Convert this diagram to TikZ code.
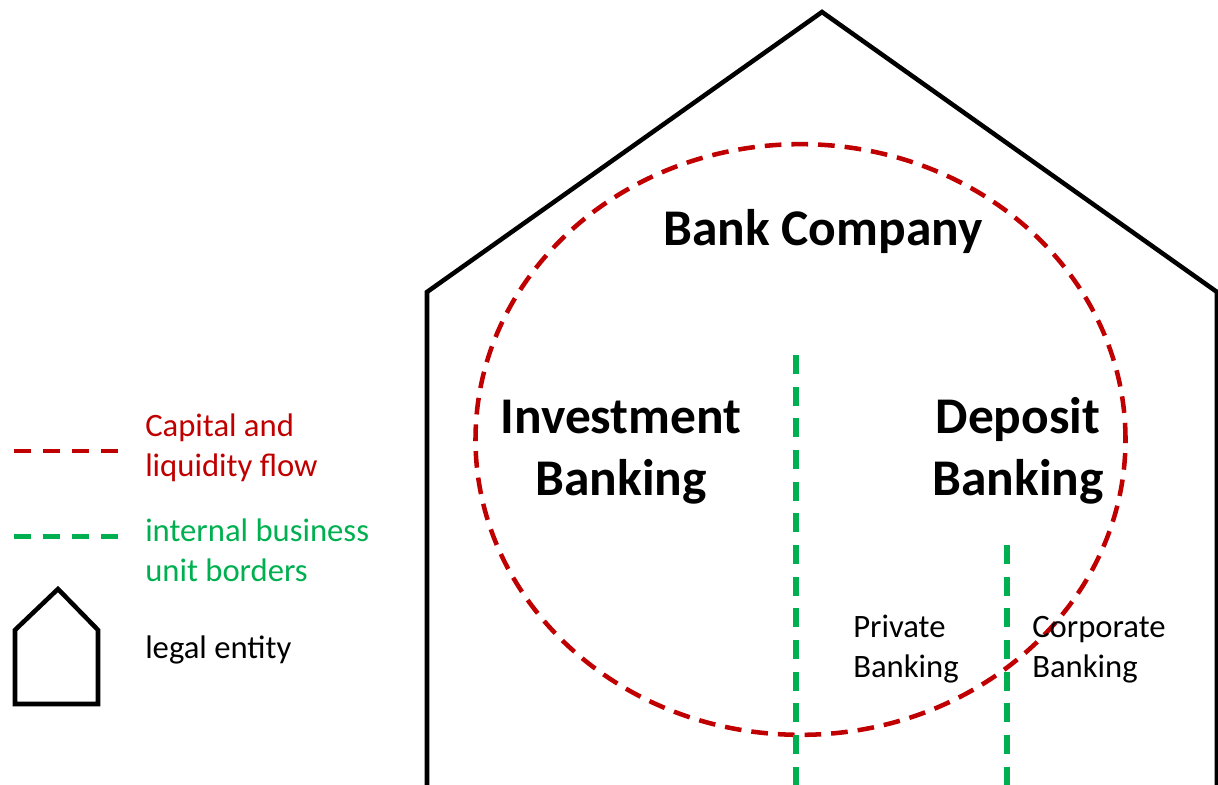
\documentclass[tikz,border=0pt]{standalone}
\usepackage{fontspec}
\setmainfont{Carlito}
\usetikzlibrary{shapes.geometric}
\definecolor{flowred}{HTML}{C00000}
\definecolor{unitgreen}{HTML}{00B050}
\begin{document}
\begin{tikzpicture}[x=0.75pt,y=-0.75pt,
  entity/.style={draw=black,line width=3.4pt,line join=miter},
  flowline/.style={draw=flowred,line width=3.4pt,dash pattern=on 12.5pt off 7.5pt},
  unitline/.style={draw=unitgreen,line width=4.2pt,dash pattern=on 14.25pt off 9.5pt},
  bigtext/.style={font=\bfseries\fontsize{38.6}{46}\selectfont,anchor=base,inner sep=0pt},
  smalltext/.style={font=\fontsize{24.5}{30}\selectfont,anchor=base,inner sep=0pt},
  legendtext/.style={font=\fontsize{24.5}{30}\selectfont,anchor=base west,inner sep=0pt}]
\useasboundingbox (0,0) rectangle (1218,785);

% legal entity outline of the bank company
\coordinate (wl) at (427,790);
\coordinate (cl) at (427,292);
\coordinate (apex) at (822,12);
\coordinate (cr) at (1217,292);
\coordinate (wr) at (1217,790);
\draw[entity] (wl) -- (cl) -- (apex) -- (cr) -- (wr);

% capital and liquidity flow
\node[flowline,ellipse,minimum width=487.5pt,minimum height=443pt,inner sep=0pt] (flow) at (800.5,439.5) {};

% internal business unit borders
\coordinate (u1t) at (796,355);
\coordinate (u1b) at (796,790);
\coordinate (u2t) at (1007,545);
\coordinate (u2b) at (1007,790);
\draw[unitline] (u1t) -- (u1b);
\draw[unitline] (u2t) -- (u2b);

% labels
\node[bigtext] (bank) at (823,245) {Bank Company};
\node[bigtext] (ib1) at (621,433) {Investment};
\node[bigtext] (ib2) at (621,495) {Banking};
\node[bigtext] (db1) at (1018,433) {Deposit};
\node[bigtext] (db2) at (1018,495) {Banking};
\node[smalltext,anchor=base west] (pb1) at (853,637) {Private};
\node[smalltext,anchor=base west] (pb2) at (853,677) {Banking};
\node[smalltext,anchor=base west] (cb1) at (1032,637) {Corporate};
\node[smalltext,anchor=base west] (cb2) at (1032,677) {Banking};

% legend
\coordinate (lr1) at (14,451);
\coordinate (lr2) at (122,451);
\draw[draw=flowred,line width=3.2pt,dash pattern=on 12.75pt off 9pt] (lr1) -- (lr2);
\node[legendtext,text=flowred] (lt1) at (145,436) {Capital and};
\node[legendtext,text=flowred] (lt2) at (145,476) {liquidity flow};

\coordinate (lg1) at (14,536);
\coordinate (lg2) at (122,536);
\draw[draw=unitgreen,line width=3.75pt,dash pattern=on 12.75pt off 9pt] (lg1) -- (lg2);
\node[legendtext,text=unitgreen] (lt3) at (145,541) {internal business};
\node[legendtext,text=unitgreen] (lt4) at (145,581) {unit borders};

\coordinate (h1) at (15,704);
\coordinate (h2) at (15,630);
\coordinate (h3) at (58,589);
\coordinate (h4) at (98,630);
\coordinate (h5) at (98,704);
\draw[entity] (h1) -- (h2) -- (h3) -- (h4) -- (h5) -- cycle;
\node[legendtext] (lt5) at (145,658) {legal entity};
\end{tikzpicture}
\end{document}
